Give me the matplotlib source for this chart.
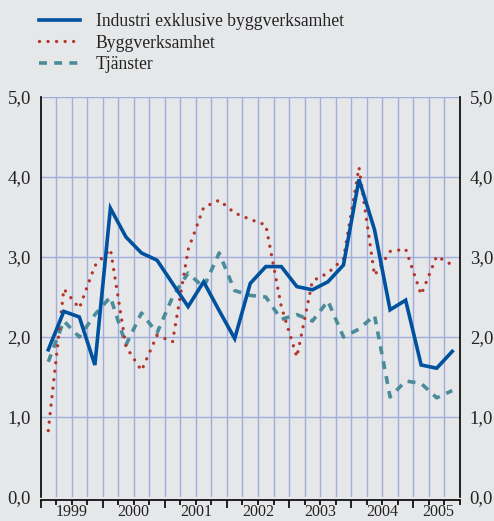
import numpy as np
import matplotlib
matplotlib.use('Agg')
import matplotlib.pyplot as plt
from matplotlib.ticker import FixedLocator, NullFormatter

plt.rcParams['font.family'] = ['Liberation Serif', 'DejaVu Serif']

# Quarterly values, 1999 Q1 - 2005 Q3
industri = [1.84, 2.32, 2.25, 1.65, 3.61, 3.25, 3.05, 2.96, 2.67, 2.38, 2.69, 2.33,
            1.98, 2.67, 2.88, 2.88, 2.63, 2.59, 2.69, 2.90, 3.97, 3.34, 2.34, 2.46,
            1.65, 1.61, 1.82]
bygg = [0.83, 2.60, 2.36, 2.89, 3.10, 1.88, 1.58, 2.02, 1.94, 3.09, 3.62, 3.71,
        3.55, 3.47, 3.40, 2.38, 1.75, 2.70, 2.80, 2.98, 4.12, 2.77, 3.07, 3.10,
        2.53, 3.01, 2.90]
tjanster = [1.69, 2.20, 2.00, 2.28, 2.50, 1.90, 2.30, 2.05, 2.50, 2.80, 2.62, 3.05,
            2.58, 2.52, 2.50, 2.22, 2.28, 2.20, 2.45, 2.00, 2.10, 2.27, 1.25, 1.45,
            1.42, 1.24, 1.33]
years = ['1999', '2000', '2001', '2002', '2003', '2004', '2005']

bg = '#e6e7e9'
grid_col = '#a0aedb'

x = np.arange(len(industri)) + 0.5

fig = plt.figure(figsize=(4.94, 5.21), dpi=100, facecolor=bg)
ax = fig.add_axes([40.5 / 494, 24 / 521, (460 - 40.5) / 494, 400 / 521])
ax.set_facecolor(bg)

l1, = ax.plot(x, industri, color='#00519e', lw=2.6, solid_joinstyle='miter',
              label='Industri exklusive byggverksamhet', zorder=5)
l2, = ax.plot(x, bygg, color='#b3362d', lw=2.4, linestyle=(0, (0.01, 2.55)),
              dash_capstyle='round', label='Byggverksamhet', zorder=4)
l3, = ax.plot(x, tjanster, color='#4b8c9b', lw=2.6, linestyle=(0, (2.2, 2.0)),
              dash_capstyle='butt', label='Tjänster', zorder=3)

ax.set_xlim(0, 27)
ax.set_ylim(0, 5)

# grid
for q in range(1, 27):
    ax.axvline(q, color=grid_col, lw=1.0, zorder=1)
for v in range(1, 6):
    ax.axhline(v, color=grid_col, lw=1.0, zorder=1)

ax.spines['top'].set_visible(False)
for s in ['left', 'right', 'bottom']:
    ax.spines[s].set_color('black')
    ax.spines[s].set_linewidth(1.2)
ax.spines['bottom'].set_position(('outward', 2))

# x ticks: quarter boundaries, year boundaries longer
ax.xaxis.set_major_locator(FixedLocator(list(range(0, 27, 4))))
ax.xaxis.set_minor_locator(FixedLocator([q for q in range(0, 28) if q % 4 != 0]))
ax.xaxis.set_major_formatter(NullFormatter())
ax.tick_params(axis='x', which='major', direction='out', length=6, width=1.2, color='black')
ax.tick_params(axis='x', which='minor', direction='out', length=3.5, width=1.2, color='black')
year_pos = [2, 6, 10, 14, 18, 22, 25.6]
for p, yl in zip(year_pos, years):
    ax.text(p, -0.237, yl, ha='center', va='baseline', fontsize=11.5, color='#222222',
            clip_on=False)

yt = [0, 1, 2, 3, 4, 5]
ylab = [f'{v:.1f}'.replace('.', ',') for v in yt]
ax.set_yticks(yt)
ax.set_yticklabels(ylab, fontsize=13.5, color='#222222')
ax.tick_params(axis='y', length=0, pad=7, labelright=True, right=False)

fig.legend(handles=[l1, l2, l3], loc='upper left', bbox_to_anchor=(32 / 494, 1 - 6 / 521),
           frameon=False, fontsize=12.7, handlelength=2.3, handletextpad=0.9,
           labelspacing=0.26, borderaxespad=0, labelcolor='#222222')

fig.savefig('out.png', dpi=100, facecolor=bg)
